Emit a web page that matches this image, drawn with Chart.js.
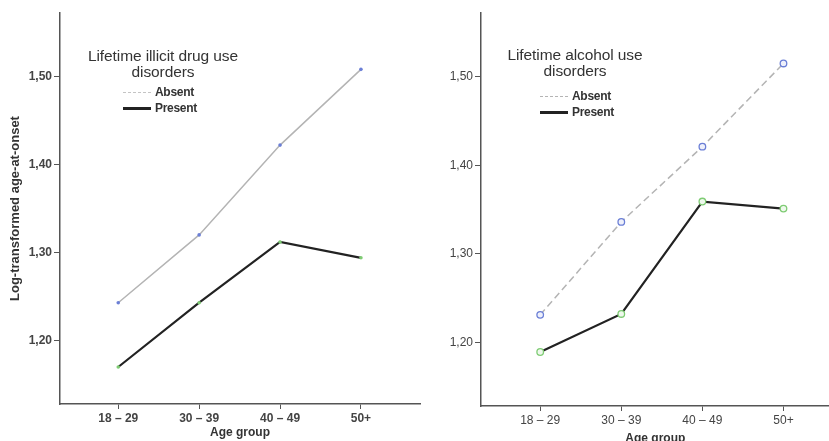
<!DOCTYPE html>
<html>
<head>
<meta charset="utf-8">
<script src="https://cdn.jsdelivr.net/npm/chart.js@4"></script>
<style>
  html, body { margin: 0; padding: 0; background: #fff; overflow: hidden; }
  body { width: 829px; height: 441px; position: relative; font-family: 'Liberation Sans', Arial, sans-serif; }
  canvas { position: absolute; top: 0; }
  .leg { position: absolute; color: #333; }
  .leg .t { text-align: center; font-size: 15.5px; line-height: 16px; letter-spacing: -0.1px; }
  .leg .row { position: absolute; font-size: 12px; font-weight: bold; color: #333; white-space: nowrap; letter-spacing: -0.3px; }
  .leg .sw { display: inline-block; width: 28px; vertical-align: middle; margin-right: 4px; }
</style>
</head>
<body>
<canvas id="c1" width="424" height="441" style="left:0"></canvas>
<canvas id="c2" width="415" height="441" style="left:420px"></canvas>

<div class="leg" style="left:73px; top:48px; width:180px;">
  <div class="t">Lifetime illicit drug use<br>disorders</div>
  <div class="row" style="left:50px; top:37px;"><span class="sw" style="border-top:1.5px dashed #c4c4c4"></span>Absent</div>
  <div class="row" style="left:50px; top:53px;"><span class="sw" style="border-top:3px solid #222"></span>Present</div>
</div>
<div class="leg" style="left:485px; top:47px; width:180px;">
  <div class="t">Lifetime alcohol use<br>disorders</div>
  <div class="row" style="left:55px; top:42px;"><span class="sw" style="border-top:1.5px dashed #b4b4b4"></span>Absent</div>
  <div class="row" style="left:55px; top:58px;"><span class="sw" style="border-top:3px solid #222"></span>Present</div>
</div>

<script>
// Age groups on the x axis
const ageGroups = ['18 – 29', '30 – 39', '40 – 49', '50+'];
const yTicks = [1.2, 1.3, 1.4, 1.5];

// Lifetime illicit drug use disorders
const drugAbsent = [1.243, 1.320, 1.422, 1.508];
const drugPresent = [1.170, 1.243, 1.312, 1.294];

// Lifetime alcohol use disorders
const alcAbsent = [1.231, 1.336, 1.421, 1.515];
const alcPresent = [1.189, 1.232, 1.359, 1.351];

Chart.defaults.font.family = "'Liberation Sans', Arial, sans-serif";

const pts = vals => vals.map((v, i) => ({ x: i, y: v }));

function makeChart(id, absent, present, opt) {
  const ctx = document.getElementById(id).getContext('2d');
  return new Chart(ctx, {
    type: 'line',
    data: {
      datasets: [{
        label: 'Absent',
        data: pts(absent),
        borderColor: '#b4b4b4',
        borderWidth: 1.5,
        borderDash: opt.dash,
        pointRadius: opt.pr,
        pointBorderWidth: opt.pbw,
        pointBorderColor: '#6b7fd6',
        pointBackgroundColor: opt.pbgA,
        tension: 0
      }, {
        label: 'Present',
        data: pts(present),
        borderColor: '#222',
        borderWidth: 2.2,
        pointRadius: opt.pr,
        pointBorderWidth: opt.pbw,
        pointBorderColor: '#7fcc74',
        pointBackgroundColor: opt.pbgP,
        tension: 0
      }]
    },
    options: {
      responsive: false,
      animation: false,
      devicePixelRatio: 1,
      layout: { padding: { top: 13, right: 0, left: 0, bottom: 0 } },
      plugins: { legend: { display: false }, tooltip: { enabled: false } },
      scales: {
        x: {
          type: 'linear',
          min: opt.xmin,
          max: opt.xmax,
          afterBuildTicks: s => { s.ticks = ageGroups.map((_, i) => ({ value: i })); },
          afterFit: s => { s.height = opt.xh; },
          ticks: {
            callback: v => ageGroups[v],
            color: '#444',
            padding: 2,
            maxRotation: 0,
            autoSkip: false,
            font: { size: 12, weight: opt.tw }
          },
          grid: { drawOnChartArea: false, tickLength: 5, color: '#555', lineWidth: 1 },
          border: { color: '#555', width: 1.5 },
          title: {
            display: true,
            text: 'Age group',
            color: '#333',
            font: { size: 12, weight: 'bold', lineHeight: 1 },
            padding: { top: 0, bottom: opt.xtPad }
          }
        },
        y: {
          min: 1.128,
          max: 1.572,
          afterBuildTicks: s => { s.ticks = yTicks.map(v => ({ value: v })); },
          afterFit: s => { s.width = opt.yw; },
          ticks: {
            callback: v => v.toFixed(2).replace('.', ','),
            color: '#444',
            padding: 2,
            font: { size: 12, weight: opt.tw }
          },
          grid: { drawOnChartArea: false, tickLength: 6, color: '#555', lineWidth: 1 },
          border: { color: '#555', width: 1.5 },
          title: {
            display: opt.ytitle,
            text: 'Log-transformed age-at-onset',
            color: '#333',
            font: { size: 13, weight: 'bold' },
            padding: { top: 8, bottom: 0 }
          }
        }
      }
    }
  });
}

makeChart('c1', drugAbsent, drugPresent, {
  dash: [], pr: 1.8, pbw: 0, pbgA: '#6b7fd6', pbgP: '#7fcc74',
  xmin: -0.72, xmax: 3.73, xh: 37, yw: 60, tw: 'bold', ytitle: true, xtPad: 2
});
makeChart('c2', alcAbsent, alcPresent, {
  dash: [7, 4], pr: 3.3, pbw: 1.3, pbgA: '#eef0fb', pbgP: '#eef8ec',
  xmin: -0.73, xmax: 3.57, xh: 35, yw: 61, tw: 'normal', ytitle: false, xtPad: -4
});
</script>
</body>
</html>
